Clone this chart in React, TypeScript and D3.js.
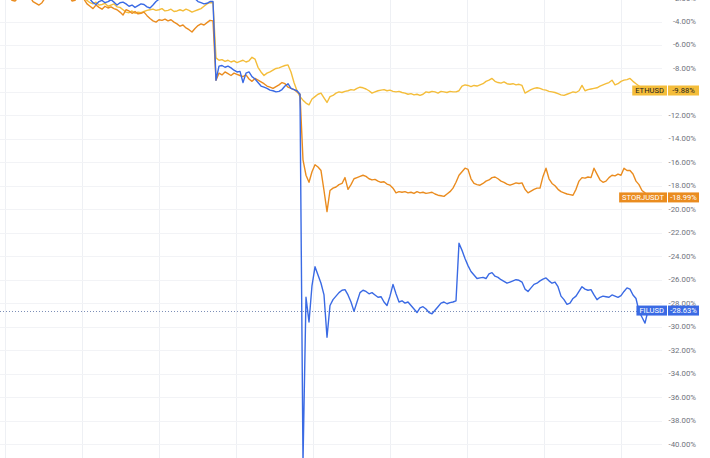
import React from "react";
import * as d3 from "d3";

// ---- data (percent change) ----
const ethusd: number[] = [
  -1.2,-1.35,-1.1,-1.4,-1.5,-1.3,-1.6,-1.45,-1.25,-1.5,
  -1.6,-1.7,-1.5,-1.8,-1.65,-1.4,-1.55,-1.7,-1.6,-1.45,
  -1.5,-1.65,-1.8,-1.7,-1.9,-1.75,-1.6,-1.8,-1.95,-2.2,
  -2.4,-2.5,-2.35,-2.6,-2.55,-2.45,-2.7,-2.6,-2.5,-2.75,
  -2.8,-3.0,-3.2,-3.25,-3.1,-3.3,-3.2,-3.25,-3.15,-3.05,
  -3.0,-2.95,-3.05,-3.0,-2.9,-3.1,-3.05,-2.95,-3.15,-3.1,
  -3.0,-3.1,-2.95,-3.05,-3.2,-3.1,-3.0,-2.9,-2.7,-2.5,
  -2.4,-2.4,-7.1,-7.3,-7.25,-7.4,-7.3,-7.45,-7.35,-7.5,
  -7.4,-7.3,-7.45,-7.35,-7.05,-7.2,-7.9,-8.3,-8.6,-8.4,
  -8.3,-8.15,-8.0,-7.95,-7.85,-7.75,-7.7,-8.3,-9.2,-9.9,
  -10.4,-10.7,-10.95,-11.1,-10.6,-10.4,-10.2,-10.1,-10.5,-10.9,
  -10.4,-10.3,-10.1,-10.0,-10.05,-9.95,-9.9,-9.8,-9.85,-9.7,
  -9.6,-9.65,-9.75,-9.9,-10.1,-10.0,-9.9,-9.85,-9.8,-9.9,
  -9.85,-9.95,-10.0,-9.95,-10.05,-10.1,-10.2,-10.15,-10.25,-10.2,
  -10.3,-10.2,-10.0,-10.05,-9.95,-10.0,-10.1,-9.95,-10.0,-10.05,
  -9.95,-10.0,-10.0,-9.9,-9.5,-9.4,-9.45,-9.55,-9.45,-9.5,
  -9.4,-9.3,-9.1,-9.0,-8.85,-9.1,-9.2,-9.25,-9.15,-9.3,
  -9.35,-9.3,-9.4,-9.35,-9.45,-10.1,-9.95,-9.8,-9.7,-9.65,
  -9.7,-9.8,-9.85,-9.95,-10.0,-10.05,-10.15,-10.25,-10.3,-10.2,
  -10.1,-10.0,-10.05,-9.9,-9.45,-9.9,-9.8,-9.75,-9.7,-9.65,
  -9.5,-9.4,-9.3,-9.2,-9.0,-9.4,-9.3,-9.1,-9.0,-8.95,
  -8.85,-9.1,-9.3,-9.5,-9.7,-9.8,-9.88,
];

const storjusdt: number[] = [
  -1.8,-1.9,-1.95,-1.7,-2.2,-2.25,-2.0,-1.85,-1.7,-1.8,
  -1.9,-2.3,-2.45,-2.6,-2.4,-2.0,-1.85,-1.9,-1.75,-1.8,
  -1.7,-1.85,-1.95,-1.8,-2.25,-2.2,-1.9,-1.85,-2.1,-2.5,
  -2.7,-2.9,-2.6,-2.8,-2.95,-2.7,-2.85,-2.75,-2.9,-3.0,
  -3.2,-3.45,-3.0,-3.1,-3.3,-3.15,-3.35,-3.3,-3.2,-3.5,
  -3.75,-3.95,-4.05,-3.85,-3.9,-3.8,-3.95,-3.85,-4.05,-4.2,
  -4.4,-4.3,-4.55,-4.7,-4.9,-4.6,-4.35,-4.2,-4.3,-4.1,
  -3.9,-3.95,-9.0,-8.4,-8.55,-8.3,-8.45,-8.6,-8.4,-8.5,
  -8.6,-8.7,-8.55,-8.9,-9.1,-8.85,-9.0,-9.15,-9.3,-9.5,
  -9.6,-9.7,-9.55,-9.4,-9.2,-9.3,-9.6,-9.7,-9.8,-10.0,
  -10.2,-15.8,-17.1,-17.7,-16.8,-16.2,-16.4,-16.7,-18.4,-20.2,
  -18.4,-18.2,-18.1,-17.9,-17.8,-17.3,-18.3,-17.9,-17.4,-17.3,
  -17.2,-17.1,-17.2,-17.4,-17.5,-17.45,-17.6,-17.7,-17.65,-17.85,
  -17.95,-18.2,-18.6,-18.5,-18.55,-18.5,-18.6,-18.55,-18.65,-18.5,
  -18.6,-18.55,-18.65,-18.6,-18.55,-18.7,-18.8,-18.85,-18.9,-18.7,
  -18.5,-18.2,-17.7,-17.1,-16.8,-16.5,-16.6,-17.4,-17.8,-17.9,
  -17.95,-17.8,-17.6,-17.5,-17.3,-17.25,-17.4,-17.6,-17.7,-17.85,
  -17.95,-17.85,-17.75,-17.8,-17.75,-18.3,-18.6,-18.45,-18.3,-18.2,
  -18.2,-17.2,-16.5,-17.4,-17.8,-18.0,-18.3,-18.5,-18.6,-18.7,
  -18.75,-18.8,-18.3,-17.6,-17.3,-17.35,-17.25,-17.3,-16.5,-17.0,
  -17.5,-17.7,-17.6,-17.3,-17.1,-17.15,-17.0,-17.1,-16.5,-16.7,
  -16.7,-17.0,-17.6,-17.9,-18.4,-18.6,-18.99,
];

const filusd: number[] = [
  -1.3,-1.5,-1.4,-1.6,-1.45,-1.7,-1.55,-1.6,-1.4,-1.5,
  -1.6,-1.75,-1.6,-1.8,-1.7,-1.5,-1.65,-1.75,-1.6,-1.55,
  -1.7,-1.8,-1.9,-1.75,-1.85,-1.7,-1.8,-1.95,-1.9,-2.0,
  -2.1,-2.4,-2.55,-2.3,-2.2,-2.4,-2.3,-2.15,-2.35,-2.6,
  -2.4,-2.35,-2.5,-2.7,-2.6,-2.8,-2.65,-2.5,-2.55,-2.75,
  -2.85,-2.6,-2.3,-2.1,-1.9,-1.95,-1.85,-2.0,-1.9,-1.8,
  -1.85,-1.95,-1.8,-1.9,-2.0,-2.05,-2.3,-2.4,-2.5,-2.45,
  -2.3,-2.3,-9.0,-7.8,-7.75,-7.9,-7.8,-7.95,-8.15,-8.3,
  -8.25,-9.2,-8.4,-8.3,-8.7,-8.9,-9.2,-9.5,-9.6,-9.7,
  -9.85,-9.9,-10.0,-9.95,-9.8,-9.5,-9.3,-9.7,-9.8,-9.9,
  -10.2,-41.5,-27.5,-29.6,-26.5,-24.9,-25.6,-26.3,-27.3,-30.9,
  -28.2,-27.7,-27.4,-27.1,-26.9,-26.85,-27.3,-27.9,-28.7,-27.9,
  -27.1,-26.9,-27.0,-27.2,-27.1,-27.3,-27.5,-27.45,-27.9,-28.2,
  -27.4,-26.4,-27.2,-27.9,-27.8,-28.0,-27.9,-28.2,-28.5,-28.8,
  -28.4,-28.3,-28.5,-28.8,-28.9,-28.6,-28.3,-28.0,-27.9,-28.05,
  -27.95,-27.9,-27.8,-22.9,-23.5,-24.2,-24.8,-25.3,-25.6,-25.9,
  -25.85,-25.8,-25.9,-25.5,-25.4,-25.7,-25.8,-26.0,-26.15,-26.3,
  -26.2,-26.1,-26.0,-26.05,-26.2,-26.8,-27.0,-26.7,-26.4,-26.3,
  -26.1,-25.95,-25.85,-26.1,-26.3,-26.2,-26.6,-27.4,-27.7,-28.1,
  -28.0,-27.6,-27.4,-27.0,-26.6,-26.8,-26.9,-26.85,-27.3,-27.7,
  -27.5,-27.4,-27.45,-27.5,-27.3,-27.4,-27.5,-27.35,-27.0,-26.7,
  -26.8,-27.3,-27.6,-28.7,-29.2,-29.7,-28.63,
];

const seriesNames = ["ETHUSD", "STORJUSDT", "FILUSD"];
const seriesColors = ["#f4bd3a", "#ea8c1f", "#3a6ae4"];
const labelTextColors = ["#1e1e1e", "#ffffff", "#ffffff"];
const yTickValues = [-2,-4,-6,-8,-10,-12,-14,-16,-18,-20,-22,-24,-26,-28,-30,-32,-34,-36,-38,-40];

const startTime = Date.UTC(2022, 10, 7, 23, 13, 15);
const stepMs = 1683000; // sample interval

const W = 710;
const H = 458;

function measure(text: string, font: string): number {
  const c = document.createElement("canvas").getContext("2d");
  if (!c) return text.length * 4.5;
  c.font = font;
  return c.measureText(text).width;
}

export default function App() {
  const n = ethusd.length;
  const times = d3.range(n).map((i) => new Date(startTime + i * stepMs));
  const x = d3
    .scaleUtc()
    .domain([times[0], times[n - 1]])
    .range([0, 648]);
  const y = d3.scaleLinear().domain([-4, -40]).range([21.5, 444]);

  const gridTimes = x.ticks(d3.utcHour.every(12) as any);

  const all = [ethusd, storjusdt, filusd];
  const line = d3
    .line<number>()
    .x((_, i) => x(times[i]))
    .y((d) => y(d));

  const labelFont = "7.6px Roboto, 'Liberation Sans', sans-serif";
  const valueBoxLeft = 667;
  const valueBoxRight = 699;
  const boxH = 10;

  const fmt = (v: number) => `${v.toFixed(2)}%`;
  const lastFil = filusd[n - 1];
  const lastYs = all.map((s) => y(s[n - 1]));
  // tick labels that sit under a last-value label are hidden (as in the reference)
  const visibleTicks = yTickValues.filter(
    (v) => !lastYs.some((ly) => Math.abs(y(v) - ly) < 4)
  );

  return (
    <svg
      width={W}
      height={H}
      style={{ position: "absolute", left: 0, top: 0, background: "#fff", display: "block" }}
      fontFamily="Roboto, 'Liberation Sans', sans-serif"
    >
      <rect x={0} y={0} width={W} height={H} fill="#ffffff" />
      {gridTimes.map((t, i) => (
        <line
          key={"vg" + i}
          x1={Math.round(x(t)) + 0.5}
          x2={Math.round(x(t)) + 0.5}
          y1={0}
          y2={H}
          stroke="#eef0f4"
          strokeWidth={1}
        />
      ))}
      {yTickValues.map((v) => (
        <line
          key={"hg" + v}
          x1={0}
          x2={662}
          y1={Math.round(y(v)) + 0.5}
          y2={Math.round(y(v)) + 0.5}
          stroke="#f2f3f6"
          strokeWidth={1}
        />
      ))}
      {visibleTicks.map((v) => (
        <text
          key={"yt" + v}
          x={696}
          y={y(v)}
          textAnchor="end"
          dominantBaseline="central"
          fontSize={7.8}
          fill="#6f727c"
        >
          {fmt(v)}
        </text>
      ))}
      <line
        x1={0}
        x2={640}
        y1={Math.round(y(lastFil)) + 0.5}
        y2={Math.round(y(lastFil)) + 0.5}
        stroke="#7d8fb8"
        strokeWidth={1}
        strokeDasharray="1 2"
      />
      {all.map((s, k) => (
        <path
          key={"s" + k}
          d={line(s) || ""}
          fill="none"
          stroke={seriesColors[k]}
          strokeWidth={1.4}
          strokeLinejoin="round"
        />
      ))}
      {all.map((s, k) => {
        const last = s[n - 1];
        const cy = y(last);
        const nameW = measure(seriesNames[k], labelFont) + 6;
        return (
          <g key={"lb" + k}>
            <rect
              x={valueBoxLeft - nameW}
              y={cy - boxH / 2}
              width={nameW}
              height={boxH}
              fill={seriesColors[k]}
            />
            <rect
              x={valueBoxLeft + 1}
              y={cy - boxH / 2}
              width={valueBoxRight - valueBoxLeft - 1}
              height={boxH}
              fill={seriesColors[k]}
            />
            <text
              x={valueBoxLeft - nameW / 2}
              y={cy}
              textAnchor="middle"
              dominantBaseline="central"
              fontSize={7.6}
              fill={labelTextColors[k]}
            >
              {seriesNames[k]}
            </text>
            <text
              x={(valueBoxLeft + valueBoxRight) / 2 + 0.5}
              y={cy}
              textAnchor="middle"
              dominantBaseline="central"
              fontSize={7.6}
              fill={labelTextColors[k]}
            >
              {fmt(last)}
            </text>
          </g>
        );
      })}
    </svg>
  );
}
